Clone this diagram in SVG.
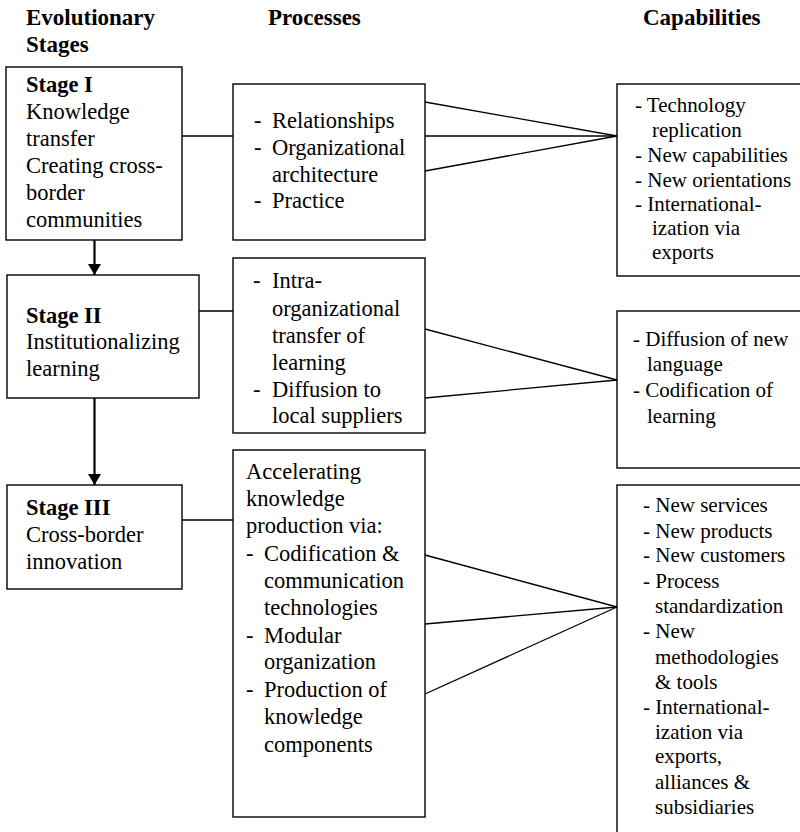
<svg xmlns="http://www.w3.org/2000/svg" width="800" height="832" viewBox="0 0 800 832" font-family="Liberation Serif, DejaVu Serif, serif">
  <defs>
    <marker id="arrow" markerWidth="11" markerHeight="13" refX="11" refY="6.5" orient="auto" markerUnits="userSpaceOnUse">
      <path d="M0,0 L11,6.5 L0,13 Z" fill="#000"/>
    </marker>
  </defs>
  <style>
    text { fill: #000; }
    .hd { font-size: 23px; font-weight: bold; }
    .st { font-size: 22.5px; }
    .b { font-weight: bold; }
    .cap { font-size: 21px; }
    .box { fill: #fff; stroke: #000; stroke-width: 1.4; }
    .link { stroke: #000; stroke-width: 1.3; fill: none; }
    .flow { stroke: #000; stroke-width: 2.2; fill: none; }
  </style>
  <rect width="800" height="832" fill="#fff"/>

  <!-- column headings -->
  <g id="headings">
    <text class="hd" x="26" y="25">Evolutionary</text>
    <text class="hd" x="26" y="52">Stages</text>
    <text class="hd" x="268" y="25">Processes</text>
    <text class="hd" x="643" y="25">Capabilities</text>
  </g>

  <!-- connectors -->
  <g id="connectors">
    <line class="flow" x1="94.5" y1="240" x2="94.5" y2="275" marker-end="url(#arrow)"/>
    <line class="flow" x1="94.5" y1="398" x2="94.5" y2="485" marker-end="url(#arrow)"/>
    <line class="link" x1="182" y1="136" x2="233" y2="136"/>
    <line class="link" x1="199" y1="311" x2="233" y2="311"/>
    <line class="link" x1="182" y1="520" x2="233" y2="520"/>
    <line class="link" x1="425" y1="102" x2="617" y2="136"/>
    <line class="link" x1="425" y1="136" x2="617" y2="136"/>
    <line class="link" x1="425" y1="171" x2="617" y2="136"/>
    <line class="link" x1="425" y1="329" x2="617" y2="380"/>
    <line class="link" x1="425" y1="398" x2="617" y2="380"/>
    <line class="link" x1="425" y1="555" x2="617" y2="607"/>
    <line class="link" x1="425" y1="624" x2="617" y2="607"/>
    <line class="link" x1="425" y1="694" x2="617" y2="607"/>
  </g>

  <!-- stages -->
  <g id="stage1">
    <rect class="box" x="6" y="67" width="176" height="173"/>
    <text class="st">
      <tspan class="b" x="26" y="92">Stage I</tspan>
      <tspan x="26" y="119">Knowledge</tspan>
      <tspan x="26" y="146">transfer</tspan>
      <tspan x="26" y="173">Creating cross-</tspan>
      <tspan x="26" y="200">border</tspan>
      <tspan x="26" y="227">communities</tspan>
    </text>
  </g>
  <g id="stage2">
    <rect class="box" x="7" y="275" width="192" height="123"/>
    <text class="st">
      <tspan class="b" x="26" y="323">Stage II</tspan>
      <tspan x="26" y="349">Institutionalizing</tspan>
      <tspan x="26" y="376">learning</tspan>
    </text>
  </g>
  <g id="stage3">
    <rect class="box" x="7" y="485" width="175" height="104"/>
    <text class="st">
      <tspan class="b" x="26" y="515">Stage III</tspan>
      <tspan x="26" y="542">Cross-border</tspan>
      <tspan x="26" y="569">innovation</tspan>
    </text>
  </g>

  <!-- processes -->
  <g id="process1">
    <rect class="box" x="233" y="84" width="192" height="156"/>
    <text class="st">
      <tspan x="254" y="128">-</tspan><tspan x="272" y="128">Relationships</tspan>
      <tspan x="254" y="155">-</tspan><tspan x="272" y="155">Organizational</tspan>
      <tspan x="272" y="182">architecture</tspan>
      <tspan x="254" y="208">-</tspan><tspan x="272" y="208">Practice</tspan>
    </text>
  </g>
  <g id="process2">
    <rect class="box" x="233" y="258" width="192" height="175"/>
    <text class="st">
      <tspan x="253" y="288">-</tspan><tspan x="272" y="288">Intra-</tspan>
      <tspan x="272" y="316">organizational</tspan>
      <tspan x="272" y="343">transfer of</tspan>
      <tspan x="272" y="370">learning</tspan>
      <tspan x="253" y="397">-</tspan><tspan x="272" y="397">Diffusion to</tspan>
      <tspan x="272" y="423">local suppliers</tspan>
    </text>
  </g>
  <g id="process3">
    <rect class="box" x="233" y="450" width="192" height="367"/>
    <text class="st">
      <tspan x="246" y="479">Accelerating</tspan>
      <tspan x="246" y="506">knowledge</tspan>
      <tspan x="246" y="533">production via:</tspan>
      <tspan x="246" y="561">-</tspan><tspan x="264" y="561">Codification &amp;</tspan>
      <tspan x="264" y="588">communication</tspan>
      <tspan x="264" y="615">technologies</tspan>
      <tspan x="246" y="643">-</tspan><tspan x="264" y="643">Modular</tspan>
      <tspan x="264" y="669">organization</tspan>
      <tspan x="246" y="697">-</tspan><tspan x="264" y="697">Production of</tspan>
      <tspan x="264" y="724">knowledge</tspan>
      <tspan x="264" y="752">components</tspan>
    </text>
  </g>

  <!-- capabilities -->
  <g id="capability1">
    <rect class="box" x="617" y="84" width="200" height="192"/>
    <text class="cap">
      <tspan x="635" y="112">- Technology</tspan>
      <tspan x="652" y="137">replication</tspan>
      <tspan x="635" y="162">- New capabilities</tspan>
      <tspan x="635" y="187">- New orientations</tspan>
      <tspan x="635" y="211">- International-</tspan>
      <tspan x="652" y="235">ization via</tspan>
      <tspan x="652" y="259">exports</tspan>
    </text>
  </g>
  <g id="capability2">
    <rect class="box" x="617" y="311" width="200" height="157"/>
    <text class="cap">
      <tspan x="633" y="346">- Diffusion of new</tspan>
      <tspan x="647" y="371">language</tspan>
      <tspan x="633" y="397">- Codification of</tspan>
      <tspan x="647" y="423">learning</tspan>
    </text>
  </g>
  <g id="capability3">
    <rect class="box" x="617" y="485" width="200" height="380"/>
    <text class="cap">
      <tspan x="643" y="512">- New services</tspan>
      <tspan x="643" y="538">- New products</tspan>
      <tspan x="643" y="562">- New customers</tspan>
      <tspan x="643" y="588">- Process</tspan>
      <tspan x="655" y="613">standardization</tspan>
      <tspan x="643" y="638">- New</tspan>
      <tspan x="655" y="664">methodologies</tspan>
      <tspan x="655" y="689">&amp; tools</tspan>
      <tspan x="643" y="714">- International-</tspan>
      <tspan x="655" y="739">ization via</tspan>
      <tspan x="655" y="763">exports,</tspan>
      <tspan x="655" y="789">alliances &amp;</tspan>
      <tspan x="655" y="814">subsidiaries</tspan>
    </text>
  </g>
</svg>
